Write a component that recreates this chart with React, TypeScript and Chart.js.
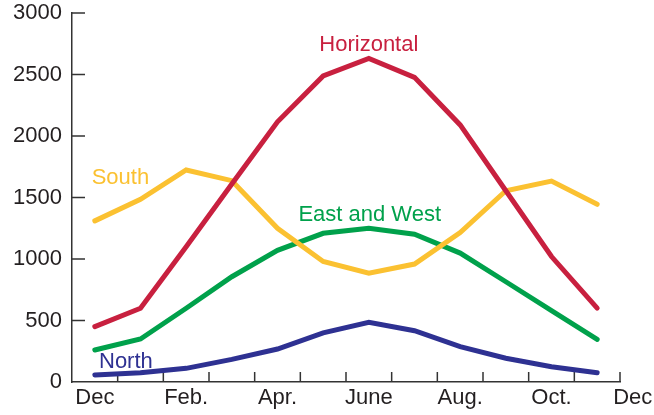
import { useEffect, useRef } from "react";
import { Chart, registerables } from "chart.js";

Chart.register(...registerables);

// months from December through November, one point per month (centred in its slot)
const months = ["Dec", "Jan", "Feb", "Mar", "Apr", "May", "June", "July", "Aug", "Sep", "Oct", "Nov"];

const horizontal = [450, 600, 1100, 1610, 2115, 2488, 2630, 2477, 2090, 1555, 1020, 600];
const south = [1310, 1485, 1724, 1637, 1250, 980, 884, 959, 1215, 1555, 1634, 1445];
const eastWest = [260, 350, 600, 856, 1070, 1209, 1249, 1201, 1048, 815, 580, 347];
const north = [57, 76, 111, 184, 268, 400, 485, 417, 287, 193, 124, 76];

const xTickLabels = ["Dec", "Feb.", "Apr.", "June", "Aug.", "Oct.", "Dec"];
const xTickValues = [0.5, 2.5, 4.5, 6.5, 8.5, 10.5, 12.28];
const yTickValues = [0, 500, 1000, 1500, 2000, 2500, 3000];

const seriesNames = ["Horizontal", "South", "East and West", "North"];
const seriesColors = ["#c8203f", "#fbc131", "#00a14b", "#2e3192"];
const seriesLabelX = [6.5, 1.06, 6.52, 1.18];
const seriesLabelY = [2691, 1610, 1309, 114];

const FONT = "'Liberation Sans', Arial, Helvetica, sans-serif";
const AXIS_COLOR = "#333333";
const TEXT_COLOR = "#231f20";

export default function App() {
  const chartRef = useRef<HTMLCanvasElement>(null);
  const chartInstance = useRef<Chart | null>(null);

  useEffect(() => {
    if (chartInstance.current) chartInstance.current.destroy();
    const ctx = chartRef.current!.getContext("2d")!;

    // small tick marks pointing into the plot, like the original
    const innerTicks = {
      id: "innerTicks",
      beforeDatasetsDraw: (chart: any) => {
        const { ctx, scales: { x, y } } = chart;
        ctx.save();
        ctx.strokeStyle = AXIS_COLOR;
        ctx.lineWidth = 1.5;
        ctx.beginPath();
        for (let i = 1; i <= months.length; i++) {
          const px = x.getPixelForValue(i);
          ctx.moveTo(px, y.bottom);
          ctx.lineTo(px, y.bottom - 10);
        }
        yTickValues.slice(1).forEach((v) => {
          const py = y.getPixelForValue(v);
          ctx.moveTo(x.left, py);
          ctx.lineTo(x.left + 13, py);
        });
        ctx.stroke();
        ctx.restore();
      },
    };

    const seriesLabels = {
      id: "seriesLabels",
      afterDatasetsDraw: (chart: any) => {
        const { ctx, scales: { x, y } } = chart;
        ctx.save();
        ctx.font = `22px ${FONT}`;
        ctx.textAlign = "center";
        ctx.textBaseline = "alphabetic";
        seriesNames.forEach((name, i) => {
          ctx.fillStyle = seriesColors[i];
          ctx.fillText(name, x.getPixelForValue(seriesLabelX[i]), y.getPixelForValue(seriesLabelY[i]));
        });
        ctx.restore();
      },
    };

    const series = [horizontal, south, eastWest, north];

    chartInstance.current = new Chart(ctx, {
      type: "line",
      data: {
        datasets: series.map((values, i) => ({
          label: seriesNames[i],
          data: values.map((v, j) => ({ x: j + 0.5, y: v })),
          borderColor: seriesColors[i],
          borderWidth: 5,
          borderCapStyle: "round",
          borderJoinStyle: "miter",
          pointRadius: 0,
          tension: 0,
          fill: false,
        })),
      },
      options: {
        animation: false,
        responsive: true,
        maintainAspectRatio: false,
        layout: { padding: { left: 0, top: 13, right: 34, bottom: 0 } },
        plugins: {
          legend: { display: false },
          title: { display: false },
          tooltip: { enabled: false },
        },
        scales: {
          x: {
            type: "linear",
            min: 0,
            max: 12,
            grid: { display: false, drawTicks: false },
            border: { display: true, color: AXIS_COLOR, width: 1.5 },
            afterBuildTicks: (scale: any) => {
              scale.ticks = xTickValues.map((v) => ({ value: v }));
            },
            afterFit: (scale: any) => {
              scale.height = 33;
              scale.paddingLeft = 0;
              scale.paddingRight = 0;
            },
            ticks: {
              autoSkip: false,
              maxRotation: 0,
              minRotation: 0,
              padding: 3,
              color: TEXT_COLOR,
              font: { family: FONT, size: 22 },
              callback: (value: any) => xTickLabels[xTickValues.indexOf(value)] ?? "",
            },
          },
          y: {
            min: 0,
            max: 3000,
            grid: { display: false, drawTicks: false },
            border: { display: true, color: AXIS_COLOR, width: 1.5 },
            afterBuildTicks: (scale: any) => {
              scale.ticks = yTickValues.map((v) => ({ value: v }));
            },
            afterFit: (scale: any) => {
              scale.width = 72;
              scale.paddingTop = 0;
              scale.paddingBottom = 0;
            },
            ticks: {
              padding: 10,
              color: TEXT_COLOR,
              font: { family: FONT, size: 22 },
              callback: (value: any) => String(value),
            },
          },
        },
      },
      plugins: [innerTicks, seriesLabels],
    });

    return () => {
      if (chartInstance.current) {
        chartInstance.current.destroy();
        chartInstance.current = null;
      }
    };
  }, []);

  return (
    <div style={{ position: "fixed", left: 0, top: 0, width: 654, height: 415, background: "#fff" }}>
      <canvas ref={chartRef} />
    </div>
  );
}
